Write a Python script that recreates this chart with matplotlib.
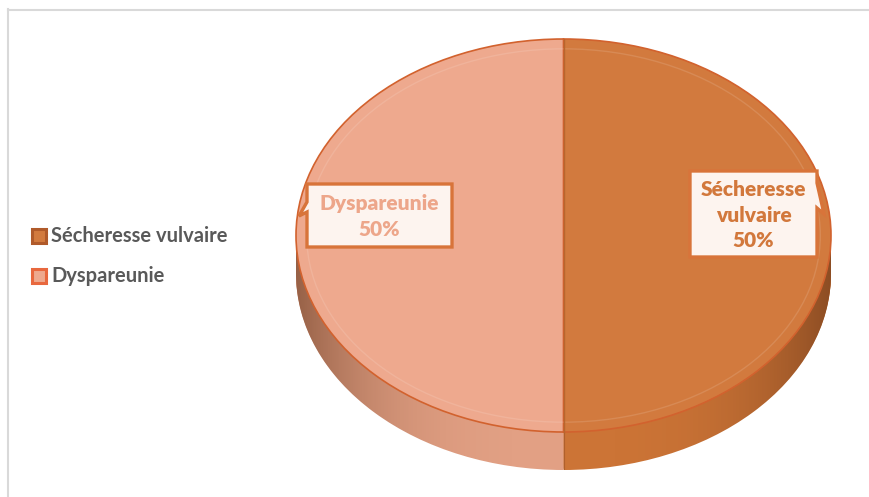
import numpy as np
import matplotlib
matplotlib.use("Agg")
import matplotlib.pyplot as plt
from matplotlib.patches import Polygon, Ellipse

categories = ["Sécheresse vulvaire", "Dyspareunie"]
values = [50, 50]
top_colors = ["#D27A3E", "#EEA98E"]
side_colors = ["#CC7436", "#E2A084"]
text_colors = ["#D2783C", "#EDA68A"]
legend_edge = ["#B05A2A", "#E8683E"]

W, H = 870, 497
fig = plt.figure(figsize=(W / 100, H / 100), dpi=100)
fig.patch.set_facecolor("white")

# overlay axes in pixel units (y downward) for frame, legend and callouts
ov = fig.add_axes([0, 0, 1, 1], zorder=3)
ov.set_xlim(0, W)
ov.set_ylim(H, 0)
ov.axis("off")
ov.patch.set_alpha(0)

# pie axes: unit circle stretched into an ellipse, with room below for the rim
left_px, right_px, top_px, bottom_px = 296, 831, 39, 470
rb = (432 - 39) / 2.0            # vertical semi-axis of the top face in pixels
depth = (bottom_px - 432) / rb   # rim depth in data units
pax = fig.add_axes([left_px / W, (H - bottom_px) / H,
                    (right_px - left_px) / W, (bottom_px - top_px) / H], zorder=2)


def reset_pie_axes():
    pax.set_aspect("auto")
    pax.set_xlim(-1, 1)
    pax.set_ylim(-1 - depth, 1)
    pax.axis("off")


# extruded rim built from stacked copies of the pie
for off in np.linspace(depth, 0.0, 40):
    pax.pie(values, colors=side_colors, startangle=90, counterclock=False,
            radius=1.0, center=(0, -off), frame=True,
            wedgeprops=dict(linewidth=0, edgecolor="none"))
reset_pie_axes()

# shading of the rim: darker towards the left and right extremes
t = np.linspace(np.pi, 2 * np.pi, 200)
upper = np.column_stack([np.cos(t), np.sin(t)])
lower = np.column_stack([np.cos(t[::-1]), np.sin(t[::-1]) - depth])
rim = Polygon(np.vstack([upper, lower]), closed=True, facecolor="none",
              edgecolor="none", transform=pax.transData)
pax.add_patch(rim)
xs = np.linspace(-1, 1, 400)
shade = np.clip(np.abs(xs) ** 3, 0, 1)
rgba = np.zeros((1, xs.size, 4))
rgba[..., 0:3] = np.array([0.35, 0.18, 0.08])
rgba[..., 3] = 0.55 * shade
im = pax.imshow(rgba, extent=(-1, 1, -1 - depth, 1), aspect="auto",
                origin="lower", zorder=5, interpolation="bilinear")
im.set_clip_path(rim)
pax.plot([0, 0], [-1, -1 - depth], color="#B0602C", lw=0.8, zorder=6)

# top face
wedges, _ = pax.pie(values, colors=top_colors, startangle=90, counterclock=False,
                    radius=1.0, center=(0, 0), frame=True,
                    wedgeprops=dict(linewidth=1.2, edgecolor="#D2622E"))
for w in wedges:
    w.set_zorder(7)
pax.add_patch(Ellipse((0, 0), 1.92, 1.9, fill=False, edgecolor="white",
                      alpha=0.12, lw=1.0, zorder=8))
pax.plot([0, 0], [-1, 1], color="#B8662E", lw=1.0, zorder=8)
reset_pie_axes()

# chart frame
ov.plot([8.5, 8.5], [9, H], color="#D9D9D9", lw=1.5)
ov.plot([8.5, W], [9.5, 9.5], color="#D9D9D9", lw=1.5)

# legend
for i, (name, col) in enumerate(zip(categories, top_colors)):
    y = 236 + 40 * i
    ov.add_patch(plt.Rectangle((32, y - 7), 14, 14, facecolor=col,
                               edgecolor=legend_edge[i], lw=2.2))
    ov.text(51, y, name, ha="left", va="center", fontsize=14.5,
            family="Lato", weight="bold", color="#595959")


# callout labels
def callout(x0, y0, x1, y1, ptr, text, color):
    tip, a, b = ptr
    if tip[0] < x0:
        pts = [(x0, y0), (x1, y0), (x1, y1), (x0, y1), (x0, b), tip, (x0, a)]
    else:
        pts = [(x0, y0), (x1, y0), (x1, a), tip, (x1, b), (x1, y1), (x0, y1)]
    ov.add_patch(Polygon(pts, closed=True, facecolor="#FDF4EF",
                         edgecolor="#D8743A", lw=2.4, zorder=4))
    ov.text((x0 + x1) / 2, (y0 + y1) / 2 + 1, text, ha="center", va="center",
            fontsize=15, family="Lato", weight="heavy", color=color,
            linespacing=1.4, zorder=5)


callout(307, 184, 452, 247, ((299, 216), 202, 212),
        f"{categories[1]}\n{values[1]}%", text_colors[1])
callout(690, 171, 817, 257, ((824, 214), 183, 208),
        "Sécheresse\nvulvaire\n" + f"{values[0]}%", text_colors[0])

fig.savefig("out.png", dpi=100, facecolor="white")
